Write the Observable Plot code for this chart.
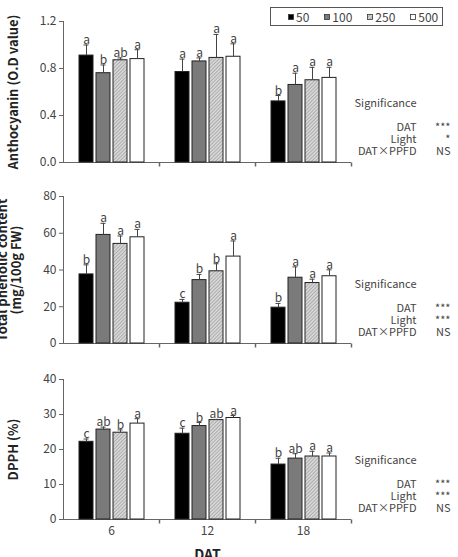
<!DOCTYPE html>
<html>
<head>
<meta charset="utf-8">
<script src="https://cdn.jsdelivr.net/npm/d3@7"></script>
<script src="https://cdn.jsdelivr.net/npm/@observablehq/plot@0.6"></script>
<style>
  body { margin: 0; background: #fff; }
  #chart { position: relative; width: 458px; height: 557px; overflow: hidden; font-family: "Noto Sans CJK KR", "Noto Sans", sans-serif; }
  #chart > svg { display: block; overflow: visible; }
  #legend { position: absolute; left: 270px; top: 7px; width: 173px; height: 19px; box-sizing: border-box;
            border: 1px solid #555; display: flex; align-items: center; padding-left: 17px; gap: 15px;
            font-size: 12px; color: #444; background: #fff; }
  #legend .item { display: flex; align-items: center; gap: 2px; }
  #legend svg { display: block; }
</style>
</head>
<body>
<svg width="0" height="0" style="position:absolute">
  <defs>
    <pattern id="hatch" patternUnits="userSpaceOnUse" width="2.5" height="2.5" patternTransform="rotate(45)">
      <rect width="2.5" height="2.5" fill="#d6d6d6"></rect>
      <line x1="0" y1="0" x2="0" y2="2.5" stroke="#8a8a8a" stroke-width="1"></line>
    </pattern>
  </defs>
</svg>
<div id="chart"><div id="legend"></div></div>
<script>
// Days after transplanting and PPFD treatments
const dat = [6, 12, 18];
const ppfd = [50, 100, 250, 500];
const ppfdFills = ["#000000", "#7a7a7a", "url(#hatch)", "#ffffff"];

// Anthocyanin (O.D value): means and standard errors, DAT-major order
const anthoMean = [0.91, 0.76, 0.87, 0.88, 0.77, 0.86, 0.89, 0.90, 0.52, 0.66, 0.70, 0.72];
const anthoErr = [0.09, 0.07, 0.02, 0.08, 0.11, 0.03, 0.20, 0.11, 0.05, 0.10, 0.11, 0.09];
const anthoLetters = ["a", "b", "ab", "a", "a", "a", "a", "a", "b", "a", "a", "a"];
const anthoTicks = [0, 0.4, 0.8, 1.2];

// Total phenolic content (mg/100g FW)
const phenolMean = [37.6, 59.1, 54.2, 57.8, 22.2, 34.5, 39.3, 47.3, 19.5, 35.8, 32.9, 36.6];
const phenolErr = [5.2, 6.3, 4.3, 4.3, 1.8, 3.1, 4.1, 8.5, 2.3, 5.9, 2.1, 3.5];
const phenolLetters = ["b", "a", "a", "a", "c", "b", "b", "a", "b", "a", "a", "a"];
const phenolTicks = [0, 20, 40, 60, 80];

// DPPH radical scavenging (%)
const dpphMean = [22.2, 25.7, 24.8, 27.4, 24.5, 26.7, 28.4, 29.0, 15.7, 17.4, 18.0, 18.0];
const dpphErr = [0.8, 0.7, 0.8, 1.4, 1.6, 1.0, 0.2, 0.7, 1.8, 1.4, 1.5, 1.0];
const dpphLetters = ["c", "ab", "b", "a", "c", "b", "ab", "a", "b", "ab", "a", "a"];
const dpphTicks = [0, 10, 20, 30, 40];

// Two-way ANOVA significance
const factors = ["DAT", "Light", "DAT×PPFD"];
const anthoSig = ["***", "*", "NS"];
const phenolSig = ["***", "***", "NS"];
const dpphSig = ["***", "***", "NS"];

function toRows(means, errs, letters) {
  return dat.flatMap((d, i) => ppfd.map((p, j) => ({
    dat: d, ppfd: p, mean: means[i * 4 + j], err: errs[i * 4 + j], letter: letters[i * 4 + j]
  })));
}

// short downward tick at each category boundary on the x axis
const tickDown = {draw(ctx, size) { const l = Math.sqrt(size / Math.PI); ctx.moveTo(0, 0); ctx.lineTo(0, l); }};

const font = '"Noto Sans CJK KR", "Noto Sans", sans-serif';
const axisColor = "#666";

function panel({rows, ticks, format, title, titleDx, sig, height, marginTop, marginBottom, xAxis}) {
  const top = (d) => d.mean + d.err;
  const note = {facet: "super", frameAnchor: "bottom-right", textAnchor: "end", lineAnchor: "middle", fill: "#444", fontSize: 11};
  return Plot.plot({
    width: 458, height, marginLeft: 62, marginRight: 107, marginTop, marginBottom,
    style: {fontFamily: font, fontSize: "11.5px", color: "#444", background: "transparent", overflow: "visible"},
    fx: {domain: dat, padding: 0, axis: null},
    x: {type: "band", domain: ppfd, paddingInner: 0.19, paddingOuter: 0.878, axis: null},
    y: {domain: [ticks[0], ticks[ticks.length - 1]], axis: null},
    color: {type: "ordinal", domain: ppfd, range: ppfdFills},
    marks: [
      Plot.frame({facet: "super", anchor: "left", stroke: axisColor}),
      Plot.ruleY([0], {stroke: axisColor}),
      Plot.dot([0], {frameAnchor: "bottom-right", symbol: tickDown, r: 4, fill: "none", stroke: axisColor}),
      Plot.axisY({ticks, tickFormat: format, tickSize: 4, tickPadding: 3, label: null, stroke: axisColor, color: "#444", fontSize: 12}),
      xAxis ? Plot.axisFx({anchor: "bottom", tickSize: 0, tickPadding: 7, label: null, fontSize: 12, color: "#444"}) : null,
      Plot.barY(rows, {fx: "dat", x: "ppfd", y: "mean", fill: "ppfd", stroke: "#222", strokeWidth: 1}),
      Plot.ruleX(rows, {fx: "dat", x: "ppfd", y1: "mean", y2: top, stroke: "#444"}),
      Plot.tickY(rows, {fx: "dat", x: "ppfd", y: top, insetLeft: 4.5, insetRight: 4.5, stroke: "#444"}),
      Plot.text(rows, {fx: "dat", x: "ppfd", y: top, text: "letter", lineAnchor: "bottom", dy: -1, fontSize: 12, fill: "#444"}),
      Plot.text([title], {facet: "super", frameAnchor: "left", textAnchor: "middle", lineAnchor: "middle", rotate: -90, dx: titleDx,
        fontSize: 13, fontWeight: "bold", fill: "#222", lineHeight: 1.08}),
      Plot.text(["Significance"], {...note, dx: 65, dy: -59}),
      Plot.text([factors.join("\n")], {...note, dx: 65, dy: -23, lineHeight: 1.09}),
      Plot.text([sig.join("\n")], {...note, dx: 99, dy: -23, lineHeight: 1.09}),
      xAxis ? Plot.text(["DAT"], {facet: "super", frameAnchor: "bottom", lineAnchor: "middle", dy: 36, fontSize: 14, fontWeight: "bold", fill: "#222"}) : null
    ]
  });
}

const chart = document.getElementById("chart");

const p1 = panel({rows: toRows(anthoMean, anthoErr, anthoLetters), ticks: anthoTicks, format: d3.format(".1f"),
  title: "Anthocyanin (O.D value)", titleDx: -50, sig: anthoSig, height: 180, marginTop: 21, marginBottom: 18, xAxis: false});
const p2 = panel({rows: toRows(phenolMean, phenolErr, phenolLetters), ticks: phenolTicks, format: d3.format("d"),
  title: "Total phenolic content\n(mg/100g FW)", titleDx: -54, sig: phenolSig, height: 180, marginTop: 16, marginBottom: 17, xAxis: false});
const p3 = panel({rows: toRows(dpphMean, dpphErr, dpphLetters), ticks: dpphTicks, format: d3.format("d"),
  title: "DPPH (%)", titleDx: -50, sig: dpphSig, height: 197, marginTop: 19, marginBottom: 38, xAxis: true});
chart.append(p1, p2, p3);

// PPFD legend box, colors taken from the chart's own color scale
const color = p1.scale("color");
const legend = document.getElementById("legend");
for (const v of color.domain) {
  const item = document.createElement("span");
  item.className = "item";
  item.innerHTML = `<svg width="6" height="6"><rect x="0.5" y="0.5" width="5" height="5" fill="${color.apply(v)}" stroke="#333" stroke-width="0.8"></rect></svg><span>${v}</span>`;
  legend.append(item);
}
</script>
</body>
</html>
